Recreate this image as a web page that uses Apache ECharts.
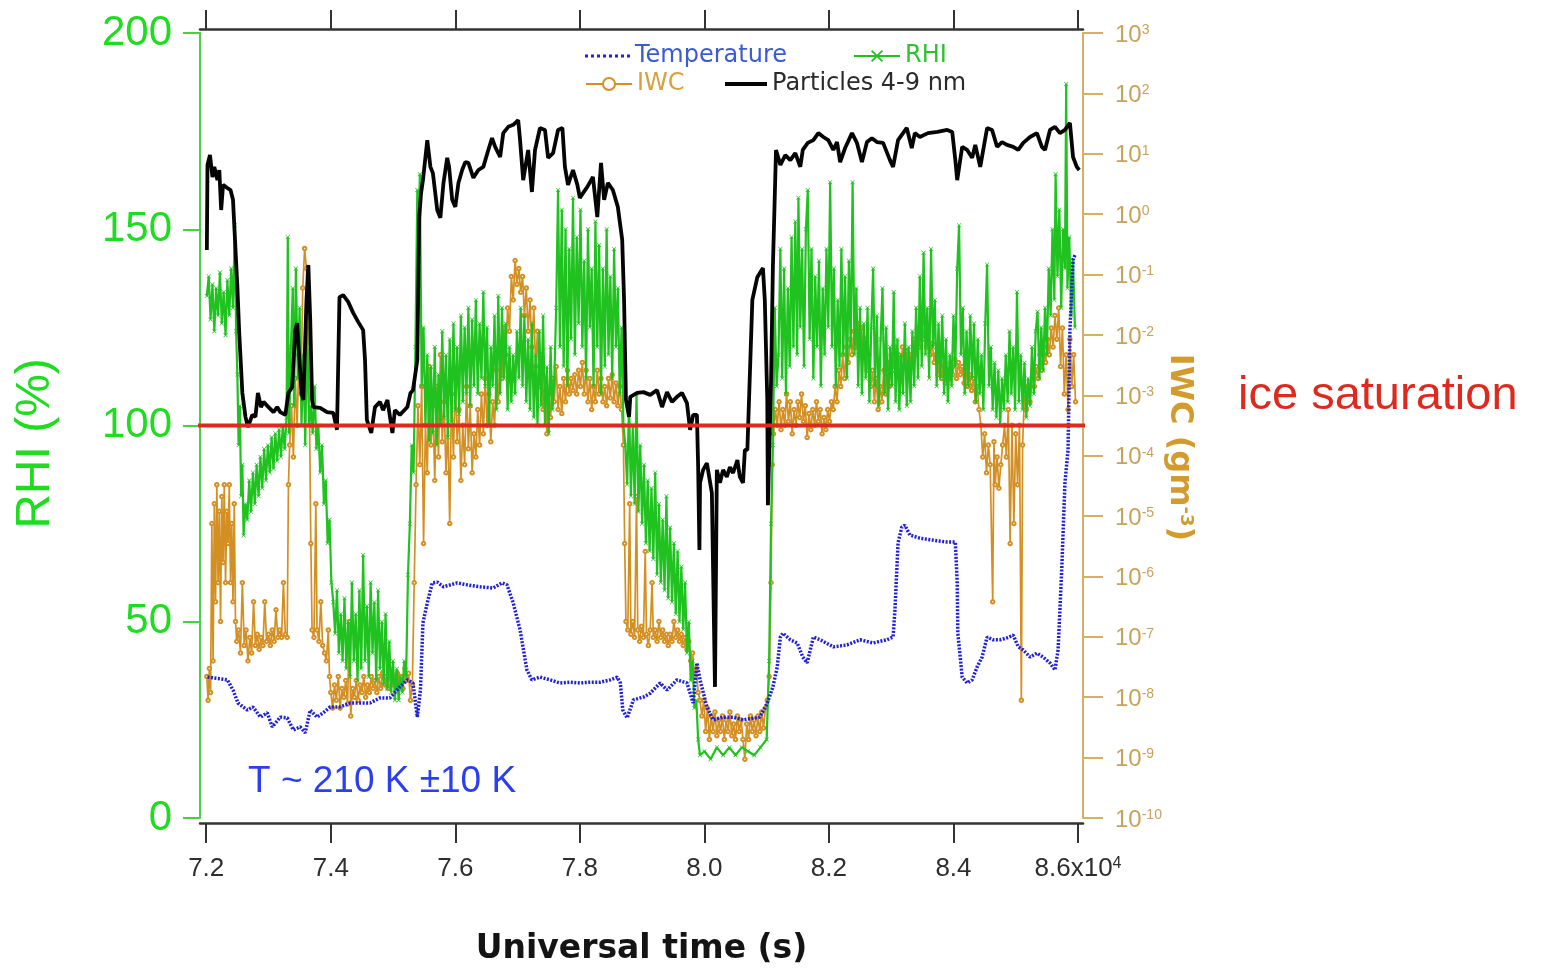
<!DOCTYPE html>
<html>
<head>
<meta charset="utf-8">
<title>RHI, IWC and particles 4-9 nm</title>
<script src="https://cdn.jsdelivr.net/npm/echarts@6/dist/echarts.min.js"></script>
<style>
  html, body { margin: 0; padding: 0; background: #fff; }
  #chart { width: 1541px; height: 969px; }
</style>
</head>
<body>
<div id="chart"></div>
<script>
// Universal time axis, in units of 10^4 s
const timeTicks = [7.2, 7.4, 7.6, 7.8, 8.0, 8.2, 8.4, 8.6];

// Relative humidity over ice (%), [time, RHI]
const rhiData = [
  [7.201,133],[7.204,138],[7.207,127],[7.210,136],[7.213,124],[7.216,135],[7.219,128],[7.222,139],[7.225,126],[7.228,134],
  [7.231,123],[7.234,137],[7.237,128],[7.240,140],[7.243,130],[7.246,151],[7.248,124],[7.250,113],[7.252,95],[7.254,105],
  [7.256,82],[7.258,90],[7.260,72],[7.263,80],[7.266,76],[7.269,86],[7.272,78],[7.275,88],[7.278,80],[7.281,90],
  [7.284,82],[7.287,92],[7.290,84],[7.293,94],[7.296,86],[7.299,95],[7.302,88],[7.305,97],[7.308,89],[7.311,98],
  [7.314,91],[7.317,99],[7.320,92],[7.323,100],[7.326,94],[7.329,102],[7.331,148],[7.333,98],[7.336,120],[7.339,135],
  [7.341,105],[7.344,140],[7.347,112],[7.350,130],[7.353,100],[7.356,118],[7.359,95],[7.362,125],[7.365,100],[7.368,105],
  [7.371,98],[7.374,110],[7.377,94],[7.380,100],[7.383,88],[7.386,95],[7.389,80],[7.392,86],[7.395,70],[7.398,76],
  [7.401,60],[7.404,55],[7.407,47],[7.410,58],[7.413,42],[7.416,52],[7.419,40],[7.422,56],[7.425,38],[7.428,50],
  [7.431,36],[7.434,60],[7.437,40],[7.440,52],[7.443,35],[7.446,58],[7.449,38],[7.452,67],[7.455,40],[7.458,54],
  [7.461,36],[7.464,60],[7.467,42],[7.470,55],[7.473,35],[7.476,58],[7.479,38],[7.482,50],[7.485,34],[7.488,52],
  [7.491,33],[7.494,45],[7.497,32],[7.500,40],[7.503,30],[7.506,38],[7.509,30],[7.512,36],[7.515,32],[7.518,40],
  [7.521,36],[7.524,62],[7.527,75],[7.530,95],[7.533,88],[7.536,120],[7.539,160],[7.541,145],[7.543,164],[7.546,110],
  [7.549,125],[7.552,100],[7.555,118],[7.558,96],[7.561,115],[7.564,98],[7.567,120],[7.570,95],[7.573,113],[7.576,100],
  [7.579,124],[7.582,102],[7.585,118],[7.588,97],[7.591,122],[7.594,101],[7.597,126],[7.600,104],[7.603,120],[7.606,103],
  [7.609,128],[7.612,106],[7.615,125],[7.618,108],[7.621,130],[7.624,105],[7.627,127],[7.630,110],[7.633,132],[7.636,108],
  [7.639,126],[7.642,112],[7.645,134],[7.648,110],[7.651,125],[7.654,100],[7.657,120],[7.660,110],[7.663,128],[7.666,104],
  [7.669,133],[7.672,108],[7.675,130],[7.678,112],[7.681,126],[7.684,104],[7.687,120],[7.690,106],[7.693,118],[7.696,108],
  [7.699,124],[7.702,112],[7.705,130],[7.708,110],[7.711,128],[7.714,106],[7.717,122],[7.720,104],[7.723,126],[7.726,102],
  [7.729,118],[7.732,100],[7.735,124],[7.738,105],[7.741,128],[7.744,100],[7.747,115],[7.750,98],[7.753,120],[7.756,104],
  [7.759,112],[7.762,130],[7.765,160],[7.768,120],[7.771,155],[7.774,115],[7.777,150],[7.780,110],[7.783,145],[7.786,122],
  [7.789,158],[7.792,118],[7.795,148],[7.798,126],[7.801,155],[7.804,120],[7.807,142],[7.810,112],[7.813,150],[7.816,125],
  [7.819,140],[7.822,110],[7.825,152],[7.828,120],[7.831,146],[7.834,108],[7.837,140],[7.840,115],[7.843,150],[7.846,118],
  [7.849,138],[7.852,112],[7.855,145],[7.858,120],[7.861,135],[7.864,108],[7.867,125],[7.870,100],[7.873,95],[7.876,85],
  [7.879,106],[7.882,82],[7.885,100],[7.888,80],[7.891,108],[7.894,78],[7.897,95],[7.900,75],[7.903,90],[7.906,70],
  [7.909,86],[7.912,68],[7.915,84],[7.918,66],[7.921,88],[7.924,62],[7.927,80],[7.930,60],[7.933,76],[7.936,58],
  [7.939,82],[7.942,56],[7.945,74],[7.948,55],[7.951,70],[7.954,52],[7.957,68],[7.960,50],[7.963,64],[7.966,48],
  [7.969,60],[7.972,42],[7.975,50],[7.978,35],[7.981,40],[7.984,28],[7.987,30],[7.990,20],[7.993,16],[8.000,17],
  [8.010,15],[8.020,18],[8.030,16],[8.040,18],[8.050,16],[8.060,18],[8.070,17],[8.080,16],[8.090,18],[8.100,20],
  [8.104,40],[8.107,75],[8.110,95],[8.113,130],[8.116,110],[8.119,118],[8.122,145],[8.125,112],[8.128,140],[8.131,108],
  [8.134,135],[8.137,115],[8.140,148],[8.143,120],[8.146,152],[8.149,118],[8.151,158],[8.154,125],[8.157,145],[8.160,115],
  [8.163,150],[8.166,160],[8.169,122],[8.172,145],[8.175,112],[8.178,138],[8.181,120],[8.184,142],[8.187,110],[8.190,135],
  [8.193,118],[8.196,145],[8.199,125],[8.202,162],[8.205,120],[8.208,140],[8.211,110],[8.214,132],[8.217,115],[8.220,145],
  [8.223,118],[8.226,138],[8.229,112],[8.232,142],[8.235,120],[8.238,162],[8.241,118],[8.244,135],[8.247,110],[8.250,130],
  [8.253,108],[8.256,126],[8.259,112],[8.262,130],[8.265,106],[8.268,125],[8.271,140],[8.274,110],[8.277,128],[8.280,105],
  [8.283,122],[8.286,135],[8.289,108],[8.292,125],[8.295,104],[8.298,120],[8.301,110],[8.304,134],[8.307,106],[8.310,122],
  [8.313,104],[8.316,118],[8.319,108],[8.322,126],[8.325,105],[8.328,120],[8.331,106],[8.334,124],[8.337,110],[8.340,130],
  [8.343,112],[8.346,138],[8.349,115],[8.352,144],[8.355,118],[8.358,130],[8.361,112],[8.364,145],[8.367,120],[8.370,132],
  [8.373,110],[8.376,126],[8.379,112],[8.382,128],[8.385,108],[8.388,122],[8.391,106],[8.394,118],[8.397,110],[8.400,128],
  [8.403,115],[8.406,140],[8.409,151],[8.412,118],[8.415,130],[8.418,108],[8.421,124],[8.424,110],[8.427,128],[8.430,112],
  [8.433,126],[8.436,106],[8.439,122],[8.442,108],[8.445,118],[8.448,104],[8.451,126],[8.454,141],[8.457,110],[8.460,120],
  [8.463,104],[8.466,116],[8.469,102],[8.472,114],[8.475,100],[8.478,112],[8.481,104],[8.484,118],[8.487,106],[8.490,124],
  [8.493,108],[8.496,120],[8.499,104],[8.502,134],[8.505,106],[8.508,118],[8.511,104],[8.514,116],[8.517,102],[8.520,112],
  [8.523,105],[8.526,120],[8.529,108],[8.532,124],[8.535,129],[8.538,112],[8.541,125],[8.544,114],[8.547,130],[8.550,118],
  [8.553,140],[8.556,128],[8.559,150],[8.562,132],[8.564,164],[8.567,138],[8.570,155],[8.573,130],[8.576,150],[8.579,140],
  [8.581,187],[8.583,135],[8.586,148],[8.589,128],[8.592,142],[8.595,125]
];

// Ice water content (g m^-3), [time, IWC]
const iwcData = [
  [7.201,2.2e-8],[7.203,8.9e-9],[7.205,3.0e-8],[7.207,1.2e-8],[7.209,7.5e-6],[7.211,4.0e-8],[7.213,1.6e-5],[7.215,3.8e-7],
  [7.217,3.3e-5],[7.219,7.9e-7],[7.221,1.2e-5],[7.223,1.8e-7],[7.225,2.1e-5],[7.227,1.7e-6],[7.229,3.3e-5],[7.231,7.9e-7],
  [7.233,1.2e-5],[7.235,3.5e-6],[7.237,3.3e-5],[7.239,7.9e-7],[7.241,7.5e-6],[7.243,3.8e-7],[7.245,1.6e-5],[7.247,1.8e-7],
  [7.249,8.4e-8],[7.252,1.3e-7],[7.255,5.4e-8],[7.258,7.9e-7],[7.261,7.2e-8],[7.264,1.3e-7],[7.267,4.0e-8],[7.270,9.8e-8],
  [7.273,5.4e-8],[7.276,3.8e-7],[7.279,7.2e-8],[7.282,1.1e-7],[7.285,6.2e-8],[7.288,9.8e-8],[7.291,7.2e-8],[7.294,3.8e-7],
  [7.297,8.4e-8],[7.300,1.1e-7],[7.303,7.2e-8],[7.306,1.3e-7],[7.309,8.4e-8],[7.312,2.8e-7],[7.315,9.8e-8],[7.318,1.3e-7],
  [7.321,9.8e-8],[7.324,7.9e-7],[7.327,1.1e-7],[7.330,9.8e-8],[7.332,3.3e-5],[7.334,1.5e-4],[7.337,6.7e-4],[7.340,9.5e-5],
  [7.343,1.9e-3],[7.346,3.2e-4],[7.349,4.7e-3],[7.352,1.05e-3],[7.355,6.0e-2],[7.358,0.27],[7.361,0.126],[7.364,6.3e-3],
  [7.366,3.2e-4],[7.368,3.5e-6],[7.370,1.3e-7],[7.373,9.8e-8],[7.376,1.6e-5],[7.378,1.3e-7],[7.381,8.4e-8],[7.384,3.8e-7],
  [7.387,7.2e-8],[7.390,5.4e-8],[7.393,4.0e-8],[7.396,1.3e-7],[7.398,2.2e-8],[7.400,1.2e-8],[7.403,6.6e-9],[7.406,1.6e-8],
  [7.409,8.9e-9],[7.412,2.2e-8],[7.415,6.6e-9],[7.418,1.4e-8],[7.421,1.0e-8],[7.424,1.9e-8],[7.427,7.7e-9],[7.430,1.8e-7],
  [7.432,4.9e-9],[7.435,1.4e-8],[7.438,1.0e-8],[7.441,1.9e-8],[7.444,8.9e-9],[7.447,1.6e-8],[7.450,1.2e-8],[7.453,2.2e-8],
  [7.456,1.0e-8],[7.459,1.6e-8],[7.462,1.2e-8],[7.465,2.2e-8],[7.468,1.4e-8],[7.471,1.9e-8],[7.474,1.2e-8],[7.477,2.2e-8],
  [7.480,1.4e-8],[7.483,2.5e-8],[7.486,1.6e-8],[7.489,2.2e-8],[7.492,1.4e-8],[7.495,2.5e-8],[7.498,1.6e-8],[7.501,2.2e-8],
  [7.504,1.9e-8],[7.507,2.5e-8],[7.510,1.6e-8],[7.513,2.2e-8],[7.516,1.4e-8],[7.519,3.0e-8],[7.522,1.9e-8],[7.525,2.5e-8],
  [7.528,8.9e-9],[7.531,1.6e-8],[7.534,7.9e-7],[7.537,3.3e-5],[7.540,6.7e-4],[7.543,7.1e-5],[7.546,1.4e-3],[7.549,3.5e-6],
  [7.552,3.2e-4],[7.555,5.2e-5],[7.558,3.0e-3],[7.561,1.5e-4],[7.564,6.7e-4],[7.567,3.9e-5],[7.570,1.4e-3],[7.573,9.5e-5],
  [7.576,4.7e-3],[7.579,1.7e-4],[7.582,7.8e-4],[7.585,5.2e-5],[7.588,3.2e-4],[7.591,7.5e-6],[7.594,1.05e-3],[7.597,9.5e-5],
  [7.600,1.9e-3],[7.603,1.7e-4],[7.606,5.8e-4],[7.609,3.9e-5],[7.612,3.2e-4],[7.615,7.1e-5],[7.618,1.4e-3],[7.621,1.3e-4],
  [7.624,6.7e-4],[7.627,5.2e-5],[7.630,2.3e-4],[7.633,9.5e-5],[7.636,5.8e-4],[7.639,1.5e-4],[7.642,1.05e-3],[7.645,2.3e-4],
  [7.648,1.9e-3],[7.651,3.2e-4],[7.654,1.05e-3],[7.657,1.7e-4],[7.660,7.8e-4],[7.663,3.2e-4],[7.666,2.6e-3],[7.669,7.8e-4],
  [7.672,4.7e-3],[7.675,1.9e-3],[7.678,1.3e-2],[7.681,4.7e-3],[7.684,2.8e-2],[7.687,1.15e-2],[7.690,9.3e-2],[7.693,3.8e-2],
  [7.696,0.17],[7.699,6.9e-2],[7.702,0.126],[7.705,5.1e-2],[7.708,9.3e-2],[7.711,2.1e-2],[7.714,6.0e-2],[7.717,1.15e-2],
  [7.720,3.8e-2],[7.723,6.3e-3],[7.726,2.8e-2],[7.729,3.0e-3],[7.732,1.15e-2],[7.735,1.4e-3],[7.738,4.7e-3],[7.741,5.8e-4],
  [7.744,1.9e-3],[7.747,2.3e-4],[7.750,1.05e-3],[7.753,4.3e-4],[7.756,1.9e-3],[7.759,7.8e-4],[7.762,3.0e-3],[7.765,5.8e-4],
  [7.768,1.4e-3],[7.771,5.0e-4],[7.774,1.9e-3],[7.777,7.8e-4],[7.780,2.6e-3],[7.783,1.05e-3],[7.786,1.9e-3],[7.789,1.2e-3],
  [7.792,2.2e-3],[7.795,1.05e-3],[7.798,2.6e-3],[7.801,1.4e-3],[7.804,3.5e-3],[7.807,1.05e-3],[7.810,2.6e-3],[7.813,7.8e-4],
  [7.816,1.9e-3],[7.819,5.8e-4],[7.822,1.4e-3],[7.825,7.8e-4],[7.828,2.6e-3],[7.831,1.05e-3],[7.834,1.9e-3],[7.837,7.8e-4],
  [7.840,1.4e-3],[7.843,6.7e-4],[7.846,1.9e-3],[7.849,9.0e-4],[7.852,2.2e-3],[7.855,7.8e-4],[7.858,1.6e-3],[7.861,6.7e-4],
  [7.864,1.4e-3],[7.867,5.8e-4],[7.870,1.5e-4],[7.872,3.5e-6],[7.874,1.8e-7],[7.877,1.3e-7],[7.880,1.6e-5],[7.882,1.1e-7],
  [7.885,1.8e-7],[7.888,9.8e-8],[7.891,2.1e-5],[7.893,1.3e-7],[7.896,8.4e-8],[7.899,1.5e-7],[7.902,9.8e-8],[7.905,2.6e-6],
  [7.907,1.1e-7],[7.910,7.2e-8],[7.913,1.3e-7],[7.916,7.9e-7],[7.918,9.8e-8],[7.921,1.3e-7],[7.924,8.4e-8],[7.927,1.8e-7],
  [7.930,9.8e-8],[7.933,1.3e-7],[7.936,8.4e-8],[7.939,1.1e-7],[7.942,7.2e-8],[7.945,1.1e-7],[7.948,8.4e-8],[7.951,1.8e-7],
  [7.954,9.8e-8],[7.957,1.3e-7],[7.960,8.4e-8],[7.963,1.1e-7],[7.966,7.2e-8],[7.969,9.8e-8],[7.972,6.2e-8],[7.975,8.4e-8],
  [7.978,4.0e-8],[7.981,5.4e-8],[7.984,2.2e-8],[7.987,3.0e-8],[7.990,1.2e-8],[7.993,8.9e-9],[7.996,4.9e-9],[7.999,8.9e-9],
  [8.002,2.7e-9],[8.005,6.6e-9],[8.008,2.0e-9],[8.011,4.9e-9],[8.014,2.7e-9],[8.017,5.7e-9],[8.020,2.3e-9],[8.023,4.2e-9],
  [8.026,2.7e-9],[8.029,4.9e-9],[8.032,2.0e-9],[8.035,4.2e-9],[8.038,2.7e-9],[8.041,5.7e-9],[8.044,2.3e-9],[8.047,3.6e-9],
  [8.050,2.0e-9],[8.053,4.9e-9],[8.056,2.7e-9],[8.059,4.2e-9],[8.062,2.0e-9],[8.065,9.4e-10],[8.068,3.6e-9],[8.071,2.0e-9],
  [8.074,4.9e-9],[8.077,2.7e-9],[8.080,4.2e-9],[8.083,2.3e-9],[8.086,4.9e-9],[8.089,2.7e-9],[8.092,5.7e-9],[8.095,3.1e-9],
  [8.098,6.6e-9],[8.101,8.9e-9],[8.104,2.2e-8],[8.107,7.9e-7],[8.109,7.1e-5],[8.111,2.3e-4],[8.114,5.8e-4],[8.117,3.2e-4],
  [8.120,7.8e-4],[8.123,2.7e-4],[8.126,5.8e-4],[8.129,3.2e-4],[8.132,1.05e-3],[8.135,3.7e-4],[8.138,7.8e-4],[8.141,2.3e-4],
  [8.144,5.8e-4],[8.147,3.2e-4],[8.150,7.8e-4],[8.153,4.3e-4],[8.156,1.05e-3],[8.159,3.7e-4],[8.162,6.7e-4],[8.165,2.0e-4],
  [8.168,5.0e-4],[8.171,2.7e-4],[8.174,5.8e-4],[8.177,3.2e-4],[8.180,7.8e-4],[8.183,3.7e-4],[8.186,5.8e-4],[8.189,2.3e-4],
  [8.192,4.3e-4],[8.195,2.7e-4],[8.198,5.8e-4],[8.201,3.7e-4],[8.204,7.8e-4],[8.207,5.8e-4],[8.210,1.4e-3],[8.213,7.8e-4],
  [8.216,2.6e-3],[8.219,1.4e-3],[8.222,4.7e-3],[8.225,1.9e-3],[8.228,6.3e-3],[8.231,3.5e-3],[8.234,8.5e-3],[8.237,4.7e-3],
  [8.240,1.15e-2],[8.243,6.3e-3],[8.246,1.55e-2],[8.249,7.3e-3],[8.252,1.3e-2],[8.255,4.7e-3],[8.258,8.5e-3],[8.261,2.6e-3],
  [8.264,4.7e-3],[8.267,1.4e-3],[8.270,2.6e-3],[8.273,7.8e-4],[8.276,1.9e-3],[8.279,5.8e-4],[8.282,1.4e-3],[8.285,7.8e-4],
  [8.288,2.6e-3],[8.291,1.05e-3],[8.294,3.5e-3],[8.297,1.4e-3],[8.300,4.7e-3],[8.303,2.6e-3],[8.306,6.3e-3],[8.309,3.0e-3],
  [8.312,4.7e-3],[8.315,2.6e-3],[8.318,6.3e-3],[8.321,3.0e-3],[8.324,5.4e-3],[8.327,2.6e-3],[8.330,4.7e-3],[8.333,3.0e-3],
  [8.336,8.5e-3],[8.339,4.7e-3],[8.342,1.3e-2],[8.345,6.3e-3],[8.348,1.8e-2],[8.351,8.5e-3],[8.354,1.55e-2],[8.357,6.3e-3],
  [8.360,1.15e-2],[8.363,4.7e-3],[8.366,7.3e-3],[8.369,3.5e-3],[8.372,4.7e-3],[8.375,2.2e-3],[8.378,3.5e-3],[8.381,1.9e-3],
  [8.384,3.0e-3],[8.387,1.6e-3],[8.390,2.6e-3],[8.393,1.9e-3],[8.396,3.5e-3],[8.399,2.2e-3],[8.402,4.0e-3],[8.405,1.9e-3],
  [8.408,3.5e-3],[8.411,2.2e-3],[8.414,3.0e-3],[8.417,1.6e-3],[8.420,2.6e-3],[8.423,1.4e-3],[8.426,2.2e-3],[8.429,1.2e-3],
  [8.432,1.9e-3],[8.435,7.8e-4],[8.438,1.4e-3],[8.441,5.8e-4],[8.444,3.2e-4],[8.447,9.5e-5],[8.450,2.3e-4],[8.453,5.2e-5],
  [8.456,1.5e-4],[8.459,7.1e-5],[8.463,3.8e-7],[8.465,1.7e-4],[8.467,3.3e-5],[8.470,9.5e-5],[8.473,2.9e-5],[8.476,7.1e-5],
  [8.479,1.5e-4],[8.482,3.2e-4],[8.485,9.5e-5],[8.488,5.8e-4],[8.491,3.5e-6],[8.494,3.2e-4],[8.497,7.5e-6],[8.500,2.3e-4],
  [8.503,3.3e-5],[8.506,3.2e-4],[8.509,8.9e-9],[8.511,1.5e-4],[8.514,1.05e-3],[8.517,5.8e-4],[8.520,1.4e-3],[8.523,7.8e-4],
  [8.527,2.6e-3],[8.530,1.4e-3],[8.533,3.0e-3],[8.536,1.9e-3],[8.539,4.7e-3],[8.542,2.6e-3],[8.545,6.3e-3],[8.548,3.5e-3],
  [8.551,8.5e-3],[8.554,4.7e-3],[8.557,1.3e-2],[8.560,6.3e-3],[8.563,2.1e-2],[8.566,8.5e-3],[8.569,2.8e-2],[8.572,3.0e-3],
  [8.575,1.3e-2],[8.578,1.05e-3],[8.581,4.7e-3],[8.584,5.8e-4],[8.587,8.5e-3],[8.590,1.4e-3],[8.593,4.7e-3],[8.596,7.8e-4]
];

// Temperature trace, drawn against the left-hand scale
const temperatureData = [
  [7.202,35.9],[7.211,35.7],[7.234,35.2],[7.243,32.6],[7.251,29.3],[7.266,27.5],[7.275,28.3],[7.287,25.7],[7.298,26.8],[7.306,23.2],
  [7.319,25.7],[7.330,25.5],[7.340,22.4],[7.351,23.2],[7.359,21.7],[7.367,27.5],[7.378,25.7],[7.388,26.8],[7.399,28.3],[7.415,28.3],
  [7.431,29.3],[7.447,29.3],[7.463,29.3],[7.479,30.6],[7.495,30.6],[7.511,33.4],[7.523,35.2],[7.532,34.4],[7.539,25.7],[7.544,32.6],
  [7.548,49.7],[7.555,54.8],[7.563,59.9],[7.571,60.1],[7.581,58.9],[7.592,59.4],[7.603,59.9],[7.619,59.4],[7.640,58.9],[7.661,58.6],
  [7.675,59.9],[7.683,59.4],[7.693,54.8],[7.704,47.9],[7.715,37.7],[7.723,35.2],[7.736,35.9],[7.752,35.2],[7.768,34.4],[7.784,34.6],
  [7.800,34.4],[7.817,34.6],[7.833,34.6],[7.849,35.2],[7.860,35.9],[7.865,34.4],[7.869,27.5],[7.876,25.5],[7.886,30.1],[7.902,30.8],
  [7.913,31.8],[7.929,34.4],[7.940,32.6],[7.956,35.2],[7.972,34.4],[7.982,29.3],[7.988,39.5],[7.993,35.2],[8.004,28.3],[8.014,25.0],
  [8.030,25.7],[8.046,25.7],[8.062,25.0],[8.089,25.7],[8.101,29.3],[8.110,33.4],[8.117,38.5],[8.122,46.1],[8.126,47.1],[8.138,45.4],
  [8.149,44.6],[8.158,41.0],[8.165,39.5],[8.175,46.1],[8.186,45.4],[8.207,43.6],[8.229,44.1],[8.250,45.4],[8.271,44.6],[8.293,45.4],
  [8.303,46.1],[8.306,53.0],[8.311,70.1],[8.317,74.1],[8.322,74.6],[8.330,72.1],[8.346,71.3],[8.367,70.8],[8.390,70.3],[8.403,70.3],
  [8.406,59.9],[8.407,47.1],[8.414,35.9],[8.422,34.4],[8.430,35.2],[8.438,38.5],[8.446,41.0],[8.454,46.1],[8.464,45.4],[8.475,45.4],
  [8.486,45.9],[8.496,46.6],[8.504,43.6],[8.512,42.8],[8.523,41.0],[8.534,42.0],[8.544,41.0],[8.555,39.5],[8.563,37.7],[8.568,42.8],
  [8.574,63.9],[8.579,85.4],[8.584,93.8],[8.587,124.3],[8.592,142.2],[8.595,143.4]
];

// Particles 4-9 nm trace, drawn against the left-hand scale
const particleData = [
  [7.201,144.7],[7.202,166.4],[7.206,168.9],[7.210,163.3],[7.213,165.9],[7.218,162.5],[7.221,165.1],[7.224,154.9],[7.227,161.3],[7.234,160.5],
  [7.239,160.0],[7.243,157.5],[7.250,135.3],[7.253,123.6],[7.258,108.3],[7.263,102.2],[7.267,99.6],[7.274,102.7],[7.279,102.2],[7.283,108.3],
  [7.288,104.7],[7.292,106.0],[7.300,104.7],[7.308,103.4],[7.314,104.7],[7.319,103.4],[7.327,102.7],[7.332,108.3],[7.338,109.8],[7.343,124.3],
  [7.346,126.1],[7.349,118.5],[7.353,108.3],[7.356,106.5],[7.361,132.0],[7.364,140.9],[7.367,126.9],[7.370,106.5],[7.372,104.7],[7.383,104.5],
  [7.394,103.4],[7.404,103.2],[7.410,98.9],[7.414,132.7],[7.420,133.2],[7.428,131.5],[7.436,128.7],[7.444,126.4],[7.452,124.3],[7.455,116.7],
  [7.458,101.4],[7.465,98.1],[7.471,104.7],[7.479,106.0],[7.484,103.9],[7.491,106.5],[7.499,98.1],[7.503,103.9],[7.511,102.7],[7.523,104.7],
  [7.528,108.3],[7.532,109.0],[7.539,116.7],[7.542,152.9],[7.545,159.2],[7.548,162.5],[7.555,172.7],[7.560,165.9],[7.564,164.3],[7.571,154.9],
  [7.576,152.9],[7.581,161.8],[7.587,168.2],[7.590,165.9],[7.595,157.5],[7.600,155.7],[7.605,161.8],[7.611,165.1],[7.616,167.1],[7.621,166.9],
  [7.629,163.1],[7.637,165.1],[7.645,165.9],[7.653,170.2],[7.659,173.2],[7.664,171.0],[7.672,168.4],[7.677,174.5],[7.685,176.1],[7.693,176.6],
  [7.701,177.8],[7.704,172.7],[7.709,162.5],[7.717,170.2],[7.723,159.5],[7.728,170.2],[7.736,175.8],[7.744,175.3],[7.749,168.2],[7.757,169.4],
  [7.765,175.3],[7.772,175.8],[7.776,165.9],[7.781,161.3],[7.789,165.1],[7.796,161.3],[7.800,158.0],[7.805,159.2],[7.812,160.8],[7.821,163.3],
  [7.828,153.1],[7.834,166.9],[7.839,157.5],[7.845,161.8],[7.853,160.0],[7.861,155.7],[7.868,147.3],[7.871,132.0],[7.874,106.5],[7.879,102.2],
  [7.881,107.3],[7.892,108.3],[7.902,108.5],[7.913,107.8],[7.924,109.0],[7.932,104.7],[7.940,108.5],[7.948,106.0],[7.956,107.3],[7.964,108.3],
  [7.972,105.7],[7.977,98.9],[7.982,102.7],[7.988,102.7],[7.990,89.4],[7.992,68.3],[7.993,85.4],[7.998,88.7],[8.004,90.4],[8.012,82.8],
  [8.017,33.4],[8.020,88.7],[8.025,85.4],[8.030,88.7],[8.036,86.9],[8.041,89.4],[8.046,87.9],[8.053,91.2],[8.057,86.9],[8.062,85.4],
  [8.065,93.8],[8.069,93.8],[8.077,132.0],[8.085,137.8],[8.094,140.1],[8.097,132.0],[8.101,106.5],[8.102,79.7],[8.107,110.8],[8.110,140.4],
  [8.115,170.2],[8.122,166.4],[8.130,168.9],[8.138,167.6],[8.146,169.4],[8.154,165.9],[8.158,170.2],[8.166,172.0],[8.175,172.7],[8.183,174.5],
  [8.191,173.5],[8.199,172.7],[8.207,170.2],[8.213,172.2],[8.218,167.1],[8.226,170.7],[8.237,174.5],[8.245,172.0],[8.253,167.1],[8.261,172.2],
  [8.269,173.2],[8.277,172.2],[8.287,172.0],[8.298,167.6],[8.303,165.9],[8.311,172.7],[8.319,174.5],[8.325,175.8],[8.333,170.7],[8.338,174.5],
  [8.346,173.5],[8.359,174.5],[8.374,174.8],[8.390,175.3],[8.398,174.8],[8.403,167.6],[8.406,162.5],[8.414,171.0],[8.422,170.2],[8.430,168.2],
  [8.435,171.5],[8.443,165.9],[8.454,175.8],[8.462,175.3],[8.470,171.0],[8.478,172.2],[8.486,171.5],[8.496,171.0],[8.504,170.2],[8.512,172.0],
  [8.523,173.5],[8.534,174.5],[8.542,171.0],[8.547,170.2],[8.555,175.3],[8.563,176.1],[8.571,174.5],[8.579,175.3],[8.587,177.1],[8.592,168.4],
  [8.598,165.9],[8.602,165.1]
];

// Ice saturation reference (RHI = 100 %), carried out past the plot frame
const iceSaturation = [[7.184, 100], [9.321, 100]];

const GREEN = '#1edc1e';
const TAN = '#d6b062';
const crossSymbol = 'path://M0,1L1,0L5,4L9,0L10,1L6,5L10,9L9,10L5,6L1,10L0,9L4,5Z';
// row of small squares for the dotted legend key
const dottedKey = 'path://M0,0h3v3h-3zM6,0h3v3h-3zM12,0h3v3h-3zM18,0h3v3h-3zM24,0h3v3h-3zM30,0h3v3h-3zM36,0h3v3h-3zM42,0h3v3h-3z';
const sansFont = '"Liberation Sans", Arial, Helvetica, sans-serif';
const wideFont = '"DejaVu Sans", Verdana, sans-serif';

function timeLabel(v) {
  const s = v.toFixed(1);
  return Math.abs(v - 8.6) < 1e-6 ? '{b|' + s + 'x10}{s|4}' : s;
}
function powerLabel(v) {
  const e = Math.round(Math.log10(v));
  return '{b|10}{s|' + e + '}';
}

function legendItem(entry, left, top, w, h) {
  return {
    data: [entry],
    left: left, top: top, padding: 0, itemGap: 0,
    itemWidth: w, itemHeight: h, selectedMode: false, symbolKeepAspect: false,
    textStyle: { fontSize: 24, fontFamily: wideFont }
  };
}

const chart = echarts.init(document.getElementById('chart'), null, { renderer: 'canvas' });

chart.setOption({
  animation: false,
  backgroundColor: '#ffffff',
  grid: { left: 200, right: 458, top: 33, bottom: 151, containLabel: false, outerBoundsMode: 'none' },
  legend: [
    legendItem({ name: 'Temperature', icon: dottedKey, itemStyle: { color: '#2020d6' }, textStyle: { color: '#3c5ad2' } }, 585, 44, 45, 3),
    legendItem({ name: 'RHI', textStyle: { color: '#2fc22f' } }, 853, 44, 46, 15),
    legendItem({ name: 'IWC', textStyle: { color: '#d9a040' } }, 585, 72, 46, 15),
    legendItem({ name: 'Particles 4-9 nm', icon: 'rect', itemStyle: { color: '#050505' }, textStyle: { color: '#2b2b2b' } }, 725, 72, 42, 4)
  ],
  xAxis: [
    {
      type: 'value', min: 7.19, max: 8.608, position: 'bottom', offset: 5,
      axisLine: { show: true, onZero: false, lineStyle: { color: '#333', width: 2.5 } },
      axisTick: { show: true, inside: false, length: 20, customValues: timeTicks, lineStyle: { color: '#333', width: 2 } },
      axisLabel: {
        customValues: timeTicks, formatter: timeLabel, margin: 33,
        fontSize: 26, color: '#2e2e2e', fontFamily: sansFont,
        rich: { b: { fontSize: 26, color: '#2e2e2e', fontFamily: sansFont },
                s: { fontSize: 16, color: '#2e2e2e', fontFamily: sansFont, verticalAlign: 'top' } }
      },
      splitLine: { show: false },
      name: 'Universal time (s)', nameLocation: 'middle', nameGap: 110, nameMoveOverlap: false,
      nameTextStyle: { fontSize: 33, fontWeight: 'bold', color: '#141414', fontFamily: wideFont }
    },
    {
      type: 'value', min: 7.19, max: 8.608, position: 'top', offset: 4,
      axisLine: { show: true, onZero: false, lineStyle: { color: '#333', width: 2.5 } },
      axisTick: { show: true, inside: false, length: 19, customValues: timeTicks, lineStyle: { color: '#333', width: 2 } },
      axisLabel: { show: false },
      splitLine: { show: false }
    }
  ],
  yAxis: [
    {
      type: 'value', min: 0, max: 200, interval: 50, position: 'left',
      axisLine: { show: true, lineStyle: { color: '#45d045', width: 2 } },
      axisTick: { show: true, inside: false, length: 17, lineStyle: { color: '#45d045', width: 2 } },
      axisLabel: { margin: 28, fontSize: 42, color: GREEN, fontFamily: sansFont, padding: [8, 0, 0, 0] },
      splitLine: { show: false },
      name: 'RHI (%)', nameLocation: 'middle', nameGap: 140, nameMoveOverlap: false,
      nameTextStyle: { fontSize: 48, color: GREEN, fontFamily: sansFont, padding: [0, 36, 0, 0] }
    },
    {
      type: 'log', logBase: 10, min: 1e-10, max: 1e3, interval: 1, splitNumber: 13, position: 'right',
      axisLine: { show: true, lineStyle: { color: TAN, width: 2 } },
      axisTick: { show: true, inside: false, length: 20, lineStyle: { color: TAN, width: 2 } },
      minorTick: { show: false },
      axisLabel: {
        formatter: powerLabel, margin: 32, color: '#c9a25a', padding: [4, 0, 0, 0],
        rich: { b: { fontSize: 24, color: '#c9a25a', fontFamily: sansFont },
                s: { fontSize: 14, color: '#c9a25a', fontFamily: sansFont, verticalAlign: 'top' } }
      },
      splitLine: { show: false },
      name: 'IWC (gm{s|-3})', nameLocation: 'middle', nameGap: 80, nameRotate: -90, nameMoveOverlap: false,
      nameTextStyle: {
        fontSize: 32, fontWeight: 'bold', color: '#d39a2e', fontFamily: wideFont, padding: [0, 0, 0, 44],
        rich: { s: { fontSize: 18, fontWeight: 'bold', color: '#d39a2e', fontFamily: wideFont, verticalAlign: 'top' } }
      }
    }
  ],
  series: [
    {
      name: 'IWC', type: 'line', xAxisIndex: 0, yAxisIndex: 1, data: iwcData,
      symbol: 'emptyCircle', symbolSize: 3.5, showSymbol: true,
      itemStyle: { color: '#d48f22', borderWidth: 1.2 },
      lineStyle: { color: '#d48f22', width: 1.7 }, z: 2
    },
    {
      name: 'RHI', type: 'line', xAxisIndex: 0, yAxisIndex: 0, data: rhiData,
      symbol: crossSymbol, symbolSize: 4.5, showSymbol: true,
      itemStyle: { color: '#1fc21f' },
      lineStyle: { color: '#1fc21f', width: 2.2 }, z: 3
    },
    {
      name: 'Temperature', type: 'line', xAxisIndex: 0, yAxisIndex: 0, data: temperatureData,
      symbol: 'none', showSymbol: false,
      itemStyle: { color: '#2020d6' },
      lineStyle: { color: '#2020d6', width: 3.5, type: [2, 1.5] }, z: 4
    },
    {
      name: 'Particles 4-9 nm', type: 'line', xAxisIndex: 0, yAxisIndex: 0, data: particleData,
      symbol: 'none', showSymbol: false,
      itemStyle: { color: '#050505' },
      lineStyle: { color: '#050505', width: 3.8 }, z: 5
    },
    {
      name: 'ice saturation', type: 'line', xAxisIndex: 0, yAxisIndex: 0, data: iceSaturation,
      symbol: 'none', showSymbol: false, clip: false, silent: true,
      lineStyle: { color: '#dd2a1f', width: 4 }, z: 6
    }
  ],
  graphic: [
    { type: 'text', x: 1238, y: 396, z: 10,
      style: { text: 'ice saturation', font: '47px ' + sansFont, fill: '#dd2a1f', verticalAlign: 'middle' } },
    { type: 'text', x: 248, y: 782, z: 10,
      style: { text: 'T ~ 210 K \u00b110 K', font: '37px ' + sansFont, fill: '#2b3ff0', verticalAlign: 'middle' } }
  ]
});
</script>
</body>
</html>
